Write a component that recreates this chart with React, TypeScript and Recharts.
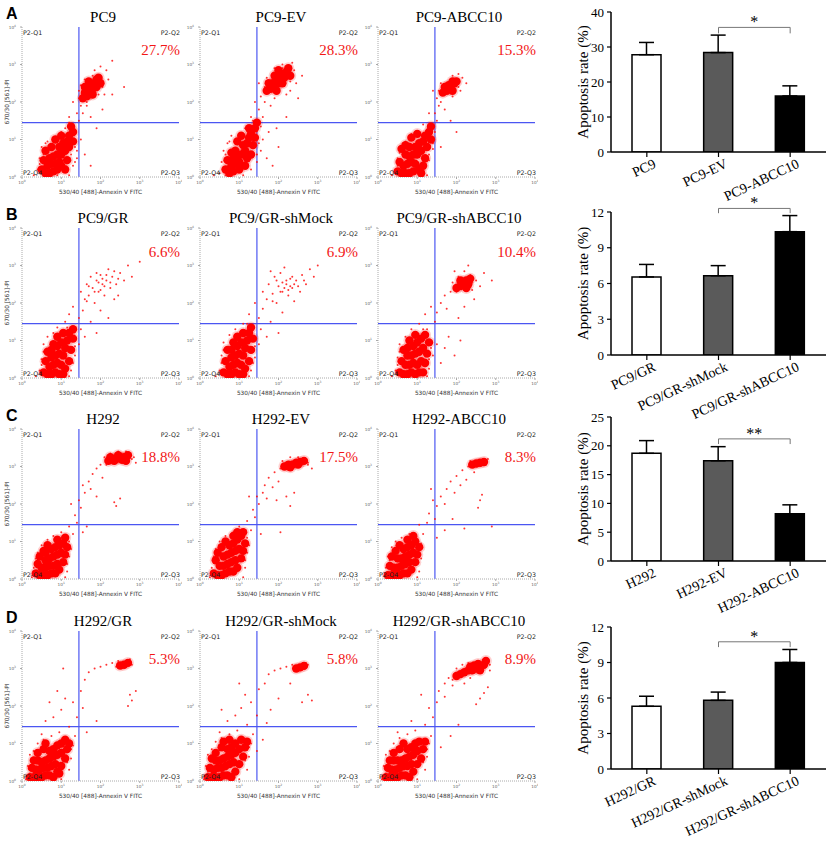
import React from 'react';
import {
  ScatterChart, Scatter, XAxis, YAxis, ReferenceLine,
  BarChart, Bar, ErrorBar, Cell,
} from 'recharts';

type Pt = [number, number];

// flow cytometry events as log10 decades (x: Annexin V, y: PI)
const a1Core: Pt[] = [[0.6,0.1],[0.7,0.1],[0.8,0.15],[0.65,0.3],[0.75,0.35],[0.85,0.35],[0.95,0.4],[0.8,0.55],[0.9,0.6],[1.0,0.6],[1.1,0.7],[0.95,0.8],[1.05,0.9],[1.15,0.95],[1.2,1.1],[1.3,1.2],[0.7,0.5],[1.0,0.3],[1.25,1.35],
  [0.5,0.2],[0.55,0.45],[0.6,0.7],[0.75,0.8],[0.85,1.0],[1.1,0.2],[1.15,0.45],[1.2,0.8],[1.3,0.95],[1.0,1.1],[0.9,0.2],
  [1.55,2.1],[1.65,2.15],[1.6,2.25],[1.7,2.3],[1.8,2.35],[1.75,2.45],[1.85,2.5],[1.9,2.6],[1.95,2.65],[1.7,2.2],[1.6,2.4],[1.8,2.2],[1.9,2.4],[2.0,2.5],[1.7,2.55]];
const a1Sparse: Pt[] = [[0.4,0.2],[0.45,0.5],[0.5,0.8],[0.6,0.9],[0.55,0.05],[1.2,0.05],[1.3,0.3],[1.4,0.5],[1.35,0.8],[1.5,1.0],[1.45,1.5],[1.4,1.7],[1.5,1.9],[1.45,2.1],[1.55,1.7],[1.65,1.9],[1.75,1.6],[1.9,1.3],[2.1,2.2],[2.2,2.6],[2.15,2.85],[2.0,2.95],[1.85,2.85],[1.6,2.6],[1.5,2.45],[2.3,2.2],[2.6,2.4],[1.3,2.0],[1.2,1.6],[1.1,1.3],[0.3,0.05],[0.9,0.05],[1.0,1.2],[0.8,1.0],[1.6,0.6],[1.75,0.3],[2.05,1.8],[2.3,3.1],[1.95,2.2],[1.25,0.6],
  [0.45,0.35],[0.55,0.6],[0.65,0.95],[1.35,0.4],[1.4,0.7],[1.2,1.45],[1.45,2.3],[1.8,2.7],[2.05,2.4],[1.65,2.0]];

const a2Core: Pt[] = [[0.75,0.1],[0.85,0.15],[0.8,0.3],[0.9,0.35],[1.0,0.4],[0.95,0.55],[1.05,0.6],[1.15,0.7],[1.1,0.85],[1.2,0.9],[1.25,1.05],[1.3,1.15],[1.4,1.3],[1.45,1.45],[0.9,0.7],[1.2,0.5],[1.0,0.2],
  [0.65,0.2],[0.7,0.45],[0.8,0.65],[0.95,0.95],[1.05,1.1],[1.15,0.3],[1.3,0.6],[1.35,0.85],[1.4,1.05],[1.25,1.3],[0.85,0.5],
  [1.7,2.3],[1.8,2.35],[1.9,2.4],[1.85,2.5],[2.0,2.5],[2.05,2.6],[2.15,2.65],[2.1,2.75],[2.2,2.8],[1.95,2.65],[2.25,2.9],[1.75,2.5],[1.95,2.3],[2.1,2.5],[2.3,2.7],[1.9,2.7],[2.0,2.85]];
const a2Sparse: Pt[] = [[0.5,0.1],[0.55,0.4],[0.6,0.7],[0.7,0.9],[0.8,1.1],[1.3,0.2],[1.45,0.4],[1.55,0.7],[1.6,1.0],[1.7,0.5],[1.85,0.3],[2.0,0.8],[1.55,1.35],[1.6,1.6],[1.5,1.8],[1.65,2.0],[1.55,2.15],[1.8,1.9],[1.9,2.1],[2.3,2.3],[2.45,2.5],[2.4,2.85],[2.35,3.05],[2.1,3.0],[1.9,2.9],[1.7,2.65],[1.5,2.5],[1.4,2.0],[1.3,1.6],[1.15,1.3],[2.6,2.7],[2.2,1.6],[1.95,1.3],[0.35,0.05],[1.1,0.05],[1.0,1.1],[2.5,2.1],[1.75,1.2],[0.65,0.05],[2.2,2.2],
  [0.6,0.25],[0.65,0.6],[0.75,0.95],[1.45,0.6],[1.5,0.9],[1.35,1.5],[1.65,2.4],[2.1,2.9],[2.3,2.55]];

const a3Core: Pt[] = [[0.6,0.1],[0.7,0.1],[0.8,0.1],[0.9,0.15],[0.65,0.3],[0.75,0.35],[0.85,0.4],[0.95,0.35],[0.8,0.55],[0.9,0.6],[1.0,0.6],[1.1,0.7],[0.95,0.8],[1.05,0.9],[1.15,0.95],[1.2,1.1],[1.3,1.2],[1.35,1.35],[0.7,0.6],[1.05,0.2],
  [0.5,0.15],[0.55,0.4],[0.6,0.75],[0.7,0.85],[0.85,1.05],[1.0,1.15],[1.15,0.3],[1.2,0.5],[1.25,0.8],[1.35,1.0],[1.1,0.1],[0.8,0.8],
  [1.65,2.25],[1.75,2.3],[1.85,2.35],[1.8,2.45],[1.95,2.5],[2.0,2.55],[1.7,2.4],[1.9,2.3],[1.9,2.55]];
const a3Sparse: Pt[] = [[0.45,0.15],[0.5,0.5],[0.55,0.8],[0.7,0.95],[0.85,1.15],[1.2,0.3],[1.3,0.6],[1.4,0.9],[1.45,1.2],[1.5,1.5],[1.45,1.7],[1.55,1.9],[1.5,2.1],[1.6,2.0],[1.7,1.8],[1.85,1.5],[2.0,1.2],[2.1,2.3],[2.15,2.65],[2.05,2.75],[1.9,2.7],[1.6,2.5],[1.4,2.3],[1.3,1.7],[1.15,1.4],[0.35,0.05],[1.25,0.05],[1.6,0.8],[1.9,2.15],[2.25,2.5],
  [0.5,0.3],[0.55,0.65],[0.65,0.9],[1.3,0.45],[1.4,0.75],[1.55,2.3],[2.05,2.4],[1.85,2.6]];

const b1Core: Pt[] = [[0.65,0.1],[0.75,0.1],[0.85,0.15],[0.95,0.1],[0.7,0.3],[0.8,0.35],[0.9,0.4],[1.0,0.35],[0.85,0.6],[0.95,0.65],[1.05,0.6],[1.1,0.8],[0.9,0.85],[1.0,0.95],[1.15,1.0],[1.2,1.2],[1.3,1.3],[0.75,0.55],[1.1,0.25],
  [0.55,0.15],[0.6,0.45],[0.65,0.7],[0.8,0.9],[0.9,1.1],[1.05,1.2],[1.2,0.45],[1.25,0.75],[1.3,1.05],[1.05,0.1],[0.75,0.75]];
const b1Sparse: Pt[] = [[0.45,0.2],[0.5,0.5],[0.55,0.9],[0.65,1.1],[0.8,1.2],[0.9,1.35],[1.1,1.5],[1.25,0.2],[1.35,0.6],[1.45,0.9],[1.5,1.3],[1.45,1.6],[1.55,1.8],[1.6,2.1],[1.5,2.3],[1.65,2.5],[1.7,2.2],[1.75,2.7],[1.8,2.4],[1.85,2.0],[1.9,2.6],[1.95,2.3],[2.0,2.75],[2.05,2.5],[2.1,2.2],[2.15,2.6],[2.2,2.9],[2.25,2.4],[2.3,2.7],[2.4,2.5],[2.5,2.8],[2.6,2.6],[2.7,3.0],[2.35,2.1],[2.0,1.8],[1.75,1.5],[1.6,1.1],[1.9,1.2],[2.2,1.6],[3.0,3.1],[1.3,1.9],[1.2,1.7],[0.35,0.05],[1.2,0.05],[2.45,2.2],[2.8,2.7],
  [1.95,2.55],[2.05,2.65],[2.1,2.45],[1.85,2.3],[2.0,2.35],[2.15,2.75],[1.7,2.45],[2.25,2.55],[1.9,2.8],[2.35,2.85],[1.65,2.05],[2.45,2.65],
  [0.5,0.35],[0.55,0.7],[1.3,0.4],[1.35,0.85],[1.15,1.35]];

const b2Core: Pt[] = [[0.7,0.1],[0.8,0.1],[0.9,0.15],[1.0,0.1],[0.75,0.3],[0.85,0.35],[0.95,0.4],[1.05,0.35],[0.9,0.6],[1.0,0.65],[1.1,0.6],[1.15,0.8],[0.95,0.85],[1.05,0.95],[1.2,1.0],[1.25,1.2],[1.3,1.35],[0.8,0.55],[1.15,0.25],
  [0.6,0.15],[0.65,0.45],[0.7,0.75],[0.85,0.95],[0.95,1.1],[1.1,1.2],[1.25,0.45],[1.3,0.75],[1.35,1.05],[1.1,0.1],[0.8,0.75]];
const b2Sparse: Pt[] = [[0.5,0.2],[0.55,0.6],[0.6,0.95],[0.75,1.15],[0.9,1.3],[1.1,1.45],[1.3,0.2],[1.4,0.55],[1.5,0.9],[1.55,1.3],[1.5,1.6],[1.6,1.85],[1.7,2.1],[1.6,2.3],[1.75,2.5],[1.85,2.25],[1.9,2.7],[1.95,2.0],[2.0,2.45],[2.05,2.8],[2.1,2.3],[2.2,2.5],[2.25,2.2],[2.3,2.65],[2.35,2.4],[2.45,2.6],[2.55,2.3],[2.6,2.75],[2.7,2.5],[2.8,2.9],[2.9,2.7],[3.0,3.0],[2.4,2.05],[2.1,1.75],[1.8,1.5],[1.7,1.1],[2.0,1.2],[1.4,2.0],[1.25,1.7],[0.4,0.05],[1.25,0.05],[2.15,2.95],[1.8,2.85],
  [2.15,2.4],[2.25,2.35],[2.2,2.6],[2.3,2.45],[2.05,2.3],[2.4,2.5],[1.95,2.6],[2.5,2.45],[2.35,2.7],[2.1,2.55],[1.85,2.05],[2.65,2.6],
  [0.55,0.4],[0.6,0.75],[1.35,0.4],[1.4,0.85],[1.2,1.45]];

const b3Core: Pt[] = [[0.65,0.1],[0.75,0.1],[0.85,0.15],[0.95,0.1],[1.05,0.15],[0.7,0.35],[0.8,0.35],[0.9,0.4],[1.0,0.35],[1.1,0.45],[0.85,0.6],[0.95,0.65],[1.05,0.7],[1.15,0.8],[0.9,0.85],[1.0,0.95],[1.1,1.05],[1.2,1.15],[0.75,0.6],
  [0.55,0.15],[0.6,0.45],[0.65,0.75],[0.8,1.0],[0.95,1.15],[1.15,0.15],[1.2,0.4],[1.25,0.65],[1.3,0.95],[0.75,0.8],
  [2.1,2.45],[2.2,2.5],[2.25,2.6],[2.15,2.55],[2.3,2.5],[2.0,2.4],[2.1,2.6],[2.35,2.65],[2.25,2.4]];
const b3Sparse: Pt[] = [[0.45,0.2],[0.5,0.55],[0.55,0.9],[0.7,1.1],[0.85,1.3],[1.05,1.45],[1.25,1.3],[1.3,0.25],[1.4,0.6],[1.5,0.9],[1.6,0.4],[1.7,0.8],[1.8,1.1],[1.95,0.6],[2.1,1.0],[1.45,1.5],[1.5,1.75],[1.6,2.0],[1.7,2.2],[1.75,1.85],[1.85,2.3],[1.9,2.55],[2.0,2.3],[2.05,2.7],[2.2,2.85],[2.35,2.75],[2.4,2.35],[2.5,2.6],[2.6,2.45],[2.7,2.8],[2.45,2.1],[2.2,1.9],[2.05,1.6],[1.35,1.9],[1.2,1.7],[0.35,0.05],[1.25,0.05],[2.9,2.6],[2.3,3.0],[1.95,2.85],
  [0.5,0.35],[0.55,0.7],[1.3,0.5],[1.35,0.8],[1.15,1.3],[1.95,2.45],[2.4,2.55]];

const c1Core: Pt[] = [[0.45,0.1],[0.55,0.1],[0.65,0.1],[0.75,0.15],[0.5,0.3],[0.6,0.3],[0.7,0.35],[0.8,0.35],[0.9,0.4],[0.6,0.5],[0.7,0.55],[0.8,0.6],[0.9,0.65],[1.0,0.7],[0.75,0.8],[0.85,0.85],[0.95,0.9],[1.05,0.95],[1.1,1.1],
  [0.35,0.15],[0.4,0.4],[0.45,0.6],[0.55,0.75],[0.65,0.9],[0.85,0.15],[0.95,0.25],[1.05,0.45],[1.1,0.65],[1.15,0.85],[0.6,0.7],[0.9,1.05],
  [2.2,3.15],[2.3,3.2],[2.4,3.2],[2.5,3.25],[2.6,3.25],[2.7,3.3],[2.35,3.15],[2.55,3.18],[2.45,3.3],[2.25,3.25],[2.65,3.15]];
const c1Sparse: Pt[] = [[0.3,0.1],[0.35,0.4],[0.4,0.7],[0.5,0.9],[0.65,1.05],[0.8,1.15],[1.0,1.25],[1.15,0.4],[1.25,0.8],[1.3,1.2],[1.2,1.4],[1.4,1.5],[1.35,1.7],[1.5,1.9],[1.45,2.1],[1.6,2.3],[1.55,2.5],[1.7,2.6],[1.8,2.8],[1.75,2.4],[1.9,2.95],[2.0,3.05],[2.05,2.7],[2.1,3.25],[2.25,3.35],[2.45,3.4],[2.65,3.4],[2.85,3.25],[2.9,3.1],[2.35,2.05],[2.5,2.15],[2.4,1.95],[1.65,1.4],[1.25,2.0],[0.25,0.05],[1.1,0.05],[1.9,2.2],[1.55,1.25],
  [0.3,0.3],[0.35,0.55],[1.15,0.2],[1.2,0.6],[1.2,1.0],[2.15,3.05],[2.8,3.2]];

const c2Core: Pt[] = [[0.45,0.1],[0.55,0.1],[0.65,0.15],[0.75,0.2],[0.5,0.35],[0.6,0.35],[0.7,0.4],[0.8,0.45],[0.9,0.5],[0.6,0.6],[0.7,0.65],[0.8,0.7],[0.9,0.75],[1.0,0.8],[0.75,0.9],[0.85,0.95],[0.95,1.05],[1.05,1.15],[1.1,1.25],
  [0.35,0.15],[0.4,0.5],[0.45,0.7],[0.55,0.85],[0.65,1.0],[0.85,0.2],[0.95,0.3],[1.05,0.55],[1.1,0.75],[1.15,0.95],[0.85,1.15],[0.95,1.25],
  [2.15,3.0],[2.25,3.05],[2.35,3.05],[2.45,3.1],[2.55,3.12],[2.65,3.15],[2.3,2.98],[2.5,3.05]];
const c2Sparse: Pt[] = [[0.3,0.15],[0.35,0.45],[0.4,0.8],[0.5,1.0],[0.65,1.15],[0.85,1.25],[1.0,1.4],[1.15,0.5],[1.25,0.9],[1.3,1.3],[1.2,1.55],[1.4,1.65],[1.35,1.85],[1.5,2.0],[1.45,2.2],[1.6,2.3],[1.7,2.15],[1.65,2.5],[1.75,2.7],[1.85,2.45],[1.9,2.85],[2.0,2.6],[2.05,2.95],[2.1,3.15],[2.3,3.25],[2.5,3.25],[2.75,3.1],[2.85,2.95],[2.2,2.2],[2.3,1.95],[2.4,2.3],[2.05,1.25],[1.55,1.2],[0.25,0.05],[1.1,0.05],[1.25,2.2],[1.95,2.1],
  [0.3,0.3],[0.35,0.6],[1.15,0.3],[1.2,0.7],[1.2,1.1],[2.1,2.95],[2.75,3.05]];

const c3Core: Pt[] = [[0.35,0.1],[0.45,0.1],[0.55,0.1],[0.65,0.15],[0.4,0.3],[0.5,0.3],[0.6,0.35],[0.7,0.4],[0.8,0.45],[0.5,0.55],[0.6,0.55],[0.7,0.6],[0.8,0.65],[0.9,0.7],[0.65,0.8],[0.75,0.85],[0.85,0.9],[0.95,1.0],
  [0.25,0.1],[0.3,0.35],[0.35,0.6],[0.45,0.75],[0.55,0.9],[0.75,0.15],[0.85,0.25],[0.95,0.45],[1.0,0.65],[1.05,0.85],[0.75,1.05],[0.9,1.15],
  [2.4,3.05],[2.5,3.08],[2.6,3.1],[2.7,3.12]];
const c3Sparse: Pt[] = [[0.25,0.15],[0.3,0.5],[0.35,0.85],[0.45,1.0],[0.6,1.1],[0.8,1.2],[1.0,0.4],[1.1,0.8],[1.15,1.2],[1.05,1.45],[1.25,1.5],[1.3,1.75],[1.45,1.6],[1.5,1.95],[1.4,2.1],[1.6,2.2],[1.7,2.0],[1.75,2.4],[1.85,2.6],[1.95,2.3],[2.0,2.75],[2.1,2.5],[2.15,2.9],[2.25,2.65],[2.3,3.0],[2.45,2.85],[2.6,2.1],[2.55,1.9],[2.65,2.25],[2.8,3.2],[2.9,1.4],[2.2,1.35],[1.7,1.3],[1.5,1.1],[0.2,0.05],[1.0,0.05],[1.35,2.4],[1.9,1.6],[2.35,3.15],
  [0.2,0.3],[0.25,0.6],[1.05,0.2],[1.1,0.55],[1.1,0.95],[2.35,3.0],[2.75,3.05]];

const d1Core: Pt[] = [[0.3,0.1],[0.4,0.1],[0.5,0.1],[0.6,0.15],[0.7,0.15],[0.35,0.3],[0.45,0.3],[0.55,0.35],[0.65,0.35],[0.75,0.4],[0.85,0.45],[0.5,0.5],[0.6,0.55],[0.7,0.6],[0.8,0.65],[0.9,0.7],[1.0,0.75],[0.7,0.8],[0.8,0.85],[0.9,0.95],[1.0,1.0],[1.1,1.1],
  [0.2,0.1],[0.25,0.35],[0.3,0.55],[0.4,0.75],[0.55,0.85],[0.6,1.0],[0.8,0.1],[0.9,0.25],[1.0,0.4],[1.1,0.6],[1.15,0.85],[1.2,1.0],[0.4,0.55],[0.95,0.2],
  [2.5,3.08],[2.6,3.1],[2.7,3.15]];
const d1Sparse: Pt[] = [[0.2,0.2],[0.25,0.5],[0.3,0.8],[0.4,1.0],[0.55,1.1],[0.75,1.2],[0.95,1.3],[1.15,0.5],[1.25,0.85],[1.35,1.2],[1.2,1.45],[0.6,1.6],[0.8,1.7],[1.0,1.9],[1.1,2.2],[0.9,2.4],[1.3,2.1],[1.4,1.7],[1.5,2.4],[1.6,2.7],[1.7,2.9],[1.85,3.0],[2.0,3.05],[2.15,3.1],[2.3,3.15],[2.45,3.2],[2.75,3.25],[2.7,2.0],[2.8,2.15],[2.75,2.3],[2.9,2.4],[1.9,1.6],[1.65,1.3],[0.1,0.05],[1.0,0.05],[1.05,3.0],[0.7,2.1],[1.55,1.95],
  [0.15,0.4],[0.2,0.7],[1.2,0.3],[1.25,0.6],[1.3,0.95],[0.5,1.25],[2.4,3.05],[2.8,3.1]];

const d2Core: Pt[] = [[0.3,0.1],[0.4,0.1],[0.5,0.1],[0.6,0.15],[0.7,0.15],[0.35,0.3],[0.45,0.35],[0.55,0.35],[0.65,0.4],[0.75,0.45],[0.85,0.5],[0.5,0.55],[0.6,0.6],[0.7,0.65],[0.8,0.7],[0.9,0.75],[1.0,0.85],[0.7,0.85],[0.8,0.9],[0.9,1.0],[1.05,1.1],
  [0.2,0.1],[0.25,0.35],[0.3,0.6],[0.4,0.75],[0.55,0.9],[0.6,1.05],[0.8,0.1],[0.9,0.25],[1.0,0.45],[1.1,0.65],[1.15,0.9],[1.2,1.05],[0.4,0.55],[0.75,1.1],
  [2.45,3.0],[2.55,3.03],[2.65,3.07]];
const d2Sparse: Pt[] = [[0.2,0.25],[0.25,0.55],[0.3,0.85],[0.4,1.05],[0.55,1.15],[0.75,1.25],[0.95,1.35],[1.15,0.55],[1.25,0.9],[1.35,1.25],[1.45,0.8],[1.6,1.1],[1.2,1.5],[0.7,1.6],[0.9,1.75],[1.05,1.95],[1.15,2.3],[1.3,2.1],[1.45,1.75],[1.5,2.45],[1.65,2.6],[1.75,2.85],[1.9,2.95],[2.05,3.0],[2.2,3.05],[2.35,3.1],[2.7,3.15],[2.6,2.1],[2.75,2.3],[2.85,2.15],[2.3,2.6],[2.0,2.2],[1.8,1.9],[0.1,0.05],[1.0,0.05],[1.0,2.6],[0.55,1.9],[1.7,1.55],
  [0.15,0.4],[0.2,0.7],[1.2,0.3],[1.25,0.65],[1.3,1.0],[0.5,1.3],[2.4,2.95],[2.75,3.1]];

const d3Core: Pt[] = [[0.3,0.1],[0.4,0.1],[0.5,0.1],[0.6,0.15],[0.7,0.15],[0.35,0.3],[0.45,0.3],[0.55,0.35],[0.65,0.4],[0.75,0.4],[0.85,0.45],[0.5,0.55],[0.6,0.55],[0.7,0.6],[0.8,0.65],[0.9,0.7],[1.0,0.8],[0.75,0.85],[0.85,0.9],[0.95,1.0],[1.05,1.05],
  [0.2,0.1],[0.25,0.35],[0.3,0.55],[0.4,0.75],[0.55,0.85],[0.65,1.0],[0.8,0.1],[0.9,0.25],[1.0,0.45],[1.1,0.6],[1.15,0.85],[1.2,1.05],[0.4,0.55],
  [2.2,2.9],[2.3,2.95],[2.4,2.95],[2.5,3.0],[2.6,3.05],[2.7,3.1],[2.45,3.08],[2.1,2.85],[2.0,2.8],[2.35,3.05],[2.6,2.95],[2.75,3.2],[2.55,3.12]];
const d3Sparse: Pt[] = [[0.2,0.2],[0.25,0.5],[0.3,0.8],[0.4,1.0],[0.55,1.15],[0.75,1.25],[0.95,1.35],[1.15,0.5],[1.25,0.85],[1.35,1.2],[1.2,1.5],[1.4,1.7],[1.3,1.95],[1.5,2.1],[1.55,2.4],[1.7,2.25],[1.7,2.6],[1.8,2.75],[1.9,2.55],[1.95,2.85],[2.0,3.0],[2.15,3.1],[2.3,3.15],[2.55,3.2],[2.8,3.2],[2.85,2.95],[2.35,2.75],[2.6,2.2],[2.7,2.35],[2.8,2.5],[2.5,2.05],[2.05,1.5],[1.85,1.2],[1.6,0.9],[0.1,0.05],[1.0,0.05],[1.1,2.3],[0.85,1.6],[2.2,2.6],
  [0.15,0.4],[0.2,0.7],[1.2,0.3],[1.25,0.65],[1.3,1.0],[0.5,1.3],[1.9,2.7],[2.85,3.1]];

const titlesA = ['PC9', 'PC9-EV', 'PC9-ABCC10'];
const titlesB = ['PC9/GR', 'PC9/GR-shMock', 'PC9/GR-shABCC10'];
const titlesC = ['H292', 'H292-EV', 'H292-ABCC10'];
const titlesD = ['H292/GR', 'H292/GR-shMock', 'H292/GR-shABCC10'];
const q2A = ['27.7%', '28.3%', '15.3%'];
const q2B = ['6.6%', '6.9%', '10.4%'];
const q2C = ['18.8%', '17.5%', '8.3%'];
const q2D = ['5.3%', '5.8%', '8.9%'];
const decadeTicks = [0, 1, 2, 3, 4];
const gate = 1.45;

// apoptosis rate bars (mean, upper SD)
const rateA = [27.8, 28.4, 16.0];
const sdA = [3.5, 5.0, 2.9];
const rateB = [6.55, 6.65, 10.35];
const sdB = [1.05, 0.85, 1.35];
const rateC = [18.7, 17.4, 8.2];
const sdC = [2.2, 2.45, 1.55];
const rateD = [5.3, 5.8, 9.0];
const sdD = [0.85, 0.7, 1.1];
const ticksA = [0, 10, 20, 30, 40];
const ticksB = [0, 3, 6, 9, 12];
const ticksC = [0, 5, 10, 15, 20, 25];
const ticksD = [0, 3, 6, 9, 12];

const FLOW = '"DejaVu Sans", Verdana, sans-serif';
const SERIF = '"Times New Roman", "Liberation Serif", serif';
const SANS = '"Liberation Sans", Arial, sans-serif';
const RED = '#f21616';
const BLUE = '#4b56f2';

const panelLeft = [22, 200, 378];
const panelW = 157;
const plotTop = [27, 228, 429, 631];
const plotH = 150;
const pctOffset = [28, 29, 33, 33];
const barTop = [12, 212, 417, 627];
const barH = [140, 143, 144, 142];
const barPadTop = 30;
const barAxisH = 80;

const toXY = (pts: Pt[]) => pts.map(([x, y]) => ({ x, y }));

const flowRows = [
  { letter: 'A', titles: titlesA, q2: q2A, core: [a1Core, a2Core, a3Core], sparse: [a1Sparse, a2Sparse, a3Sparse] },
  { letter: 'B', titles: titlesB, q2: q2B, core: [b1Core, b2Core, b3Core], sparse: [b1Sparse, b2Sparse, b3Sparse] },
  { letter: 'C', titles: titlesC, q2: q2C, core: [c1Core, c2Core, c3Core], sparse: [c1Sparse, c2Sparse, c3Sparse] },
  { letter: 'D', titles: titlesD, q2: q2D, core: [d1Core, d2Core, d3Core], sparse: [d1Sparse, d2Sparse, d3Sparse] },
];

const barRows = [
  { names: titlesA, rate: rateA, sd: sdA, ticks: ticksA, bracket: [35.6, 33.9], stars: '*' },
  { names: titlesB, rate: rateB, sd: sdB, ticks: ticksB, bracket: [12.3, 11.9], stars: '*' },
  { names: titlesC, rate: rateC, sd: sdC, ticks: ticksC, bracket: [21.2, 20.3], stars: '**' },
  { names: titlesD, rate: rateD, sd: sdD, ticks: ticksD, bracket: [10.75, 10.3], stars: '*' },
];
const barFills = ['#ffffff', '#5a5a5a', '#000000'];

const haloDot = (p: any) => <circle cx={p.cx} cy={p.cy} r={6} fill="#ff0000" fillOpacity={0.18} />;
const coreDot = (p: any) => <circle cx={p.cx} cy={p.cy} r={4.2} fill="#ff0000" />;
const speckDot = (p: any) => <circle cx={p.cx} cy={p.cy} r={1} fill="#ff1010" fillOpacity={0.85} />;

const XPow = (p: any) => (
  <text x={p.x} y={p.y + 3} textAnchor="middle" fontFamily={FLOW} fontSize={4.2} fill="#666">
    10<tspan dy={-1.8} fontSize={3}>{p.payload.value}</tspan>
  </text>
);
const YPow = (p: any) => (
  <text x={p.x - 2} y={p.y + 1.5} textAnchor="end" fontFamily={FLOW} fontSize={4.2} fill="#666">
    10<tspan dy={-1.8} fontSize={3}>{p.payload.value}</tspan>
  </text>
);

function FlowPanel({ core, sparse }: { core: Pt[]; sparse: Pt[] }) {
  const c = toXY(core);
  const s = toXY(sparse);
  return (
    <ScatterChart width={22 + panelW + 3} height={27 + plotH + 24} margin={{ top: 27, right: 3, bottom: 0, left: 0 }}>
      <XAxis
        type="number" dataKey="x" domain={[0, 4]} ticks={decadeTicks} allowDataOverflow interval={0}
        height={24} tickSize={2} tick={<XPow />}
        axisLine={{ stroke: '#aaa', strokeDasharray: '1 1' }} tickLine={{ stroke: '#aaa' }}
      />
      <YAxis
        type="number" dataKey="y" domain={[0, 4]} ticks={decadeTicks} allowDataOverflow interval={0}
        width={22} tickSize={2} tick={<YPow />}
        axisLine={{ stroke: '#aaa', strokeDasharray: '1 1' }} tickLine={{ stroke: '#aaa' }}
      />
      <Scatter data={s} shape={speckDot} isAnimationActive={false} />
      <Scatter data={c} shape={haloDot} isAnimationActive={false} />
      <Scatter data={c} shape={coreDot} isAnimationActive={false} />
      <ReferenceLine x={gate} stroke={BLUE} strokeWidth={1.2} />
      <ReferenceLine y={gate} stroke={BLUE} strokeWidth={1.2} />
    </ScatterChart>
  );
}

const SlantTick = (p: any) => {
  const x = p.x + 10;
  const y = p.y + 8;
  return (
    <text x={x} y={y} transform={`rotate(-25 ${x} ${y})`} textAnchor="end" fontFamily={SERIF} fontSize={14} fill="#000">
      {p.payload.value}
    </text>
  );
};

const RateTick = (p: any) => (
  <text x={p.x - 1} y={p.y + 4.5} textAnchor="end" fontFamily={SERIF} fontSize={13} fill="#000">
    {p.payload.value}
  </text>
);

function RateChart({ row, h }: { row: typeof barRows[number]; h: number }) {
  const data = row.names.map((name, i) => ({ name, rate: row.rate[i], err: [0, row.sd[i]] }));
  const max = row.ticks[row.ticks.length - 1];
  const [yTop, yLow] = row.bracket;
  const n1 = row.names[1];
  const n2 = row.names[2];
  return (
    <BarChart width={295} height={barPadTop + h + barAxisH} data={data} margin={{ top: barPadTop, right: 9, bottom: 0, left: 0 }}>
      <XAxis
        dataKey="name" type="category" interval={0} height={barAxisH} tick={<SlantTick />} tickSize={5}
        axisLine={{ stroke: '#000', strokeWidth: 1.5 }} tickLine={{ stroke: '#000', strokeWidth: 1.2 }}
      />
      <YAxis
        type="number" domain={[0, max]} ticks={row.ticks} interval={0} width={71} tickSize={4} allowDataOverflow
        tick={<RateTick />}
        axisLine={{ stroke: '#000', strokeWidth: 1.5 }} tickLine={{ stroke: '#000', strokeWidth: 1.2 }}
      />
      <Bar dataKey="rate" barSize={29} stroke="#000" strokeWidth={1.5} isAnimationActive={false}>
        {data.map((d, i) => <Cell key={d.name} fill={barFills[i]} />)}
        <ErrorBar dataKey="err" direction="y" width={7.5} stroke="#000" strokeWidth={1.5} />
      </Bar>
      <ReferenceLine
        segment={[{ x: n1, y: yTop }, { x: n2, y: yTop }]} stroke="#777" strokeWidth={1} ifOverflow="visible"
        label={{ value: row.stars, position: 'top', offset: 0, fill: '#000', fontSize: 16, fontFamily: SERIF }}
      />
      <ReferenceLine segment={[{ x: n1, y: yTop }, { x: n1, y: yLow }]} stroke="#777" strokeWidth={1} ifOverflow="visible" />
      <ReferenceLine segment={[{ x: n2, y: yTop }, { x: n2, y: yLow }]} stroke="#777" strokeWidth={1} ifOverflow="visible" />
    </BarChart>
  );
}

export default function App() {
  return (
    <div style={{ position: 'absolute', left: 0, top: 0, width: 835, height: 848, background: '#fff', overflow: 'hidden' }}>
      {flowRows.map((row, r) =>
        row.core.map((core, p) => (
          <div key={`f${r}${p}`} style={{ position: 'absolute', left: panelLeft[p] - 22, top: plotTop[r] - 27 }}>
            <FlowPanel core={core} sparse={row.sparse[p]} />
          </div>
        ))
      )}
      {barRows.map((row, r) => (
        <div key={`b${r}`} style={{ position: 'absolute', left: 540, top: barTop[r] - barPadTop }}>
          <RateChart row={row} h={barH[r]} />
        </div>
      ))}
      <svg width={835} height={848} style={{ position: 'absolute', left: 0, top: 0, pointerEvents: 'none' }}>
        {flowRows.map((row, r) => {
          const T = plotTop[r];
          return (
            <g key={`t${r}`}>
              <text x={6} y={T - 8} fontFamily={SANS} fontWeight="bold" fontSize={16}>{row.letter}</text>
              <text x={9} y={T + plotH / 2} transform={`rotate(-90 9 ${T + plotH / 2})`} textAnchor="middle" fontFamily={FLOW} fontSize={5.8} fill="#333">
                670/30 [561]-PI
              </text>
              {row.titles.map((title, p) => {
                const L = panelLeft[p];
                const R = L + panelW;
                return (
                  <g key={title}>
                    <text x={L + 81} y={T - 5} textAnchor="middle" fontFamily={SERIF} fontSize={15}>{title}</text>
                    <text x={R + 1} y={T + pctOffset[r]} textAnchor="end" fontFamily={SERIF} fontSize={15} fill={RED}>{row.q2[p]}</text>
                    <text x={L + 1} y={T + 8} fontFamily={FLOW} fontSize={6.3} fill="#222">P2-Q1</text>
                    <text x={R + 1} y={T + 8} textAnchor="end" fontFamily={FLOW} fontSize={6.3} fill="#222">P2-Q2</text>
                    <text x={L + 1} y={T + plotH - 2} fontFamily={FLOW} fontSize={6.3} fill="#222">P2-Q4</text>
                    <text x={R + 1} y={T + plotH - 2} textAnchor="end" fontFamily={FLOW} fontSize={6.3} fill="#222">P2-Q3</text>
                    <text x={L + panelW / 2} y={T + plotH + 17} textAnchor="middle" fontFamily={FLOW} fontSize={5.8} fill="#333">
                      530/40 [488]-Annexin V FITC
                    </text>
                  </g>
                );
              })}
              <text x={583} y={barTop[r] + barH[r] / 2} transform={`rotate(-90 583 ${barTop[r] + barH[r] / 2})`} textAnchor="middle" dominantBaseline="central" fontFamily={SERIF} fontSize={15}>
                Apoptosis rate (%)
              </text>
            </g>
          );
        })}
      </svg>
    </div>
  );
}
